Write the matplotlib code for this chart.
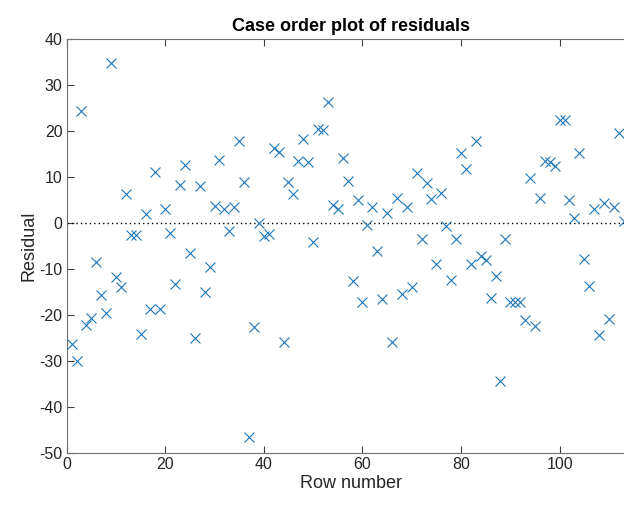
import matplotlib
matplotlib.use("Agg")
import matplotlib.pyplot as plt
import numpy as np

residuals = [
    -26.3, -29.9, 24.4, -22.2, -20.7, -8.4, -15.6, -19.5, 34.8, -11.8,
    -14.0, 6.3, -2.6, -2.7, -24.1, 1.9, -18.6, 11.0, -18.6, 3.1,
    -2.2, -13.2, 8.2, 12.7, -6.5, -24.9, 8.0, -15.1, -9.5, 3.7,
    13.8, 3.1, -1.7, 3.4, 17.8, 8.9, -46.5, -22.7, 0.1, -2.8,
    -2.3, 16.2, 15.4, -25.9, 9.0, 6.4, 13.4, 18.3, 13.3, -4.1,
    20.4, 20.3, 26.3, 3.9, 3.1, 14.1, 9.2, -12.6, 4.9, -17.2,
    -0.5, 3.5, -6.0, -16.5, 2.1, -25.8, 5.5, -15.5, 3.5, -14.0,
    10.8, -3.4, 8.6, 5.2, -8.9, 6.5, -0.7, -12.4, -3.5, 15.3,
    11.7, -8.9, 17.8, -7.2, -8.1, -16.4, -11.5, -34.3, -3.4, -17.2,
    -17.2, -17.2, -21.1, 9.8, -22.4, 5.5, 13.5, 13.3, 12.5, 22.5,
    22.5, 4.9, 1.1, 15.3, -7.8, -13.8, 3.1, -24.4, 4.4, -20.9,
    3.5, 19.6, 0.5,
]
rows = np.arange(1, len(residuals) + 1)

x_ticks = [0, 20, 40, 60, 80, 100]
y_ticks = [-50, -40, -30, -20, -10, 0, 10, 20, 30, 40]

plt.rcParams['font.family'] = ['Liberation Sans', 'DejaVu Sans']
plt.rcParams['axes.unicode_minus'] = False

fig = plt.figure(figsize=(6.24, 5.05), dpi=100)
W, H = 624, 505
left_px, right_px = 66.7, 635.0
top_px, bottom_px = 39.0, 453.0
ax = fig.add_axes([left_px / W, 1 - bottom_px / H,
                   (right_px - left_px) / W, (bottom_px - top_px) / H])

blue = '#1f77b8'
ax.plot(rows, residuals, linestyle='none', marker='x', color=blue,
        markersize=7, markeredgewidth=0.8, clip_on=False, zorder=3)
ax.axhline(0, color='black', linestyle=(0, (1, 2.2)), linewidth=1.0, zorder=2)

ax.set_xlim(0, 115.3)
ax.set_ylim(-50, 40)
ax.set_xticks(x_ticks)
ax.set_yticks(y_ticks)

axis_color = '#262626'
for side in ['left', 'bottom', 'top', 'right']:
    ax.spines[side].set_color('#707070')
    ax.spines[side].set_linewidth(0.8)
ax.tick_params(direction='in', length=5, width=0.8, color='#404040',
               labelsize=11.5, labelcolor=axis_color, top=True, right=True,
               pad=3)

ax.set_title('Case order plot of residuals', fontsize=13, fontweight='bold',
             color='black', pad=6)
ax.set_xlabel('Row number', fontsize=13, color=axis_color, labelpad=2)
ax.set_ylabel('Residual', fontsize=13, color=axis_color, labelpad=1)

fig.savefig('out.png', dpi=100)
